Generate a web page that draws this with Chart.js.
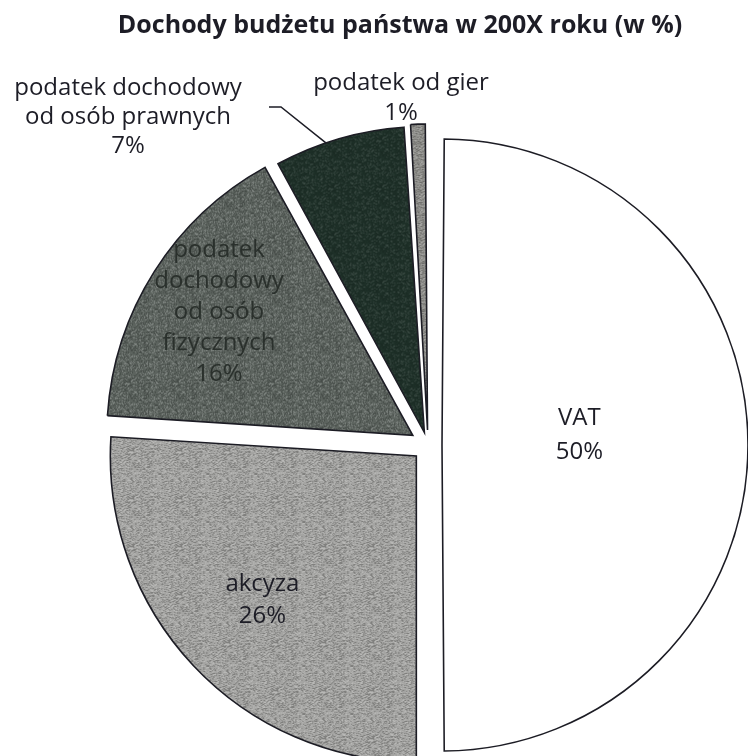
<!DOCTYPE html>
<html lang="pl">
<head>
<meta charset="utf-8">
<title>Dochody budżetu państwa</title>
<script src="https://cdn.jsdelivr.net/npm/chart.js@4.4.1/dist/chart.umd.min.js"></script>
<style>
    html, body { margin: 0; padding: 0; background: #ffffff; }
    #wrap { width: 748px; height: 756px; }
</style>
</head>
<body>
<div id="wrap"><canvas id="budgetChart" width="748" height="756"></canvas></div>
<script>
// Chart data
const chartTitle = 'Dochody budżetu państwa w 200X roku (w %)';
const categories = ['VAT', 'akcyza', 'podatek dochodowy od osób fizycznych', 'podatek dochodowy od osób prawnych', 'podatek od gier'];
const labelLines = [
    ['VAT'],
    ['akcyza'],
    ['podatek', 'dochodowy', 'od osób', 'fizycznych'],
    ['podatek dochodowy', 'od osób prawnych'],
    ['podatek od gier']
];
const shares = [50, 26, 16, 7, 1];

// Styles
const sliceColors = ['#ffffff', '#a4a4a2', '#5c635e', '#1e3028', '#8e8e8a'];
const sliceShift = [14, 16, 18, 13, 15];   // how far each slice is pulled out, px
const pieRadius = 306;
const fontFamily = '"Open Sans", "DejaVu Sans", sans-serif';
const textColor = '#1d1d26';

// where the label text goes: inside the slice (frac of radius along the middle angle) or outside
const labelPlacement = [
    { inside: true, frac: 0.45, turn: -0.07, lineHeight: 34 },
    { inside: true, frac: 0.69, turn: 0, lineHeight: 32 },
    { inside: true, frac: 0.75, turn: 0, lineHeight: 31, color: '#2a302c' },
    { inside: false, x: 128, y: 88, lineHeight: 29, leader: { x: 269, y: 107, turn: -0.045 } },
    { inside: false, x: 401, y: 83, lineHeight: 30 }
];

// Speckled fill like the printed halftone (fixed hash, no randomness)
function speckle(base, amount) {
    const c = document.createElement('canvas');
    c.width = 48;
    c.height = 48;
    const g = c.getContext('2d');
    g.fillStyle = base;
    g.fillRect(0, 0, 48, 48);
    for (let y = 0; y < 48; y++) {
        for (let x = 0; x < 48; x++) {
            const h = Math.abs(Math.sin(x * 12.9898 + y * 78.233) * 43758.5453) % 1;
            if (h < 0.25) {
                g.fillStyle = 'rgba(0,0,0,' + amount + ')';
                g.fillRect(x, y, 1, 1);
            } else if (h > 0.8) {
                g.fillStyle = 'rgba(255,255,255,' + amount + ')';
                g.fillRect(x, y, 1, 1);
            }
        }
    }
    return g.createPattern(c, 'repeat');
}

// Chart.js v4 moves an arc by offset/4 and also grows its radius; keep all slices the same size
const equalRadiusPlugin = {
    id: 'equalRadius',
    beforeDatasetsDraw(chart) {
        chart.getDatasetMeta(0).data.forEach((arc, i) => {
            const fix = 1 - Math.sin(Math.min(Math.PI, arc.circumference || 0));
            arc.outerRadius = pieRadius - sliceShift[i] * fix;
        });
    }
};

// Draw title, labels and the leader line on top of the pie
const sliceLabelPlugin = {
    id: 'sliceLabels',
    afterDatasetsDraw(chart) {
        const ctx = chart.ctx;
        const arcs = chart.getDatasetMeta(0).data;

        ctx.save();
        ctx.textAlign = 'center';
        ctx.textBaseline = 'middle';

        // Title
        ctx.fillStyle = textColor;
        ctx.font = 'bold 25px ' + fontFamily;
        ctx.fillText(chartTitle, 400, 26);

        ctx.font = '24px ' + fontFamily;
        arcs.forEach((arc, i) => {
            const p = arc.getProps(['x', 'y', 'startAngle', 'endAngle'], true);
            const mid = (p.startAngle + p.endAngle) / 2;
            const cx = p.x + Math.cos(mid) * sliceShift[i];
            const cy = p.y + Math.sin(mid) * sliceShift[i];
            const place = labelPlacement[i];
            const lines = labelLines[i].concat([shares[i] + '%']);

            let x, y;
            if (place.inside) {
                const a = mid + place.turn;
                x = cx + Math.cos(a) * pieRadius * place.frac;
                y = cy + Math.sin(a) * pieRadius * place.frac - (lines.length - 1) * place.lineHeight / 2;
            } else {
                x = place.x;
                y = place.y;
            }

            ctx.fillStyle = place.color || textColor;
            lines.forEach((line, k) => {
                ctx.fillText(line, x, y + k * place.lineHeight);
            });

            // Leader line from the outside label to the slice edge
            if (place.leader) {
                const a = mid + place.leader.turn;
                const ex = cx + Math.cos(a) * pieRadius;
                const ey = cy + Math.sin(a) * pieRadius;
                ctx.strokeStyle = textColor;
                ctx.lineWidth = 1.5;
                ctx.beginPath();
                ctx.moveTo(place.leader.x, place.leader.y);
                ctx.lineTo(place.leader.x + 12, place.leader.y);
                ctx.lineTo(ex, ey);
                ctx.stroke();
            }
        });
        ctx.restore();
    }
};

const fills = sliceColors.map((col, i) => (i === 0 ? col : speckle(col, i === 3 ? 0.12 : 0.22)));

const ctx = document.getElementById('budgetChart').getContext('2d');
const budgetChart = new Chart(ctx, {
    type: 'pie',
    data: {
        labels: categories,
        datasets: [{
            data: shares,
            backgroundColor: fills,
            borderColor: '#1c1c24',
            borderWidth: 1.6,
            borderJoinStyle: 'miter',
            offset: sliceShift.map(s => s * 4), // v4 draws offset / 4
            radius: pieRadius,
            clip: false
        }]
    },
    options: {
        responsive: false,
        animation: false,
        events: [],
        layout: {
            padding: { left: 108, right: 0, top: 134, bottom: 0 } // puts the pie centre at (428, 445)
        },
        plugins: {
            legend: { display: false },
            tooltip: { enabled: false },
            title: { display: false }
        }
    },
    plugins: [equalRadiusPlugin, sliceLabelPlugin]
});
</script>
</body>
</html>
